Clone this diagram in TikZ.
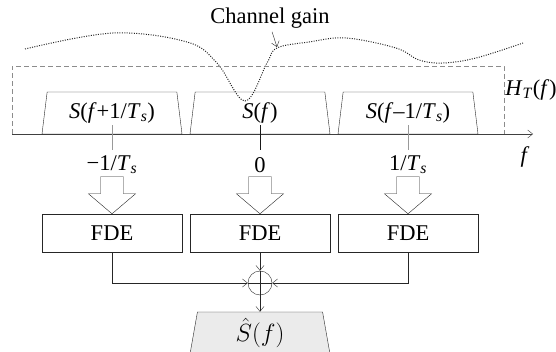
\documentclass[tikz,border=0pt]{standalone}
\usepackage{fontspec}
\setmainfont{Liberation Serif}
\usetikzlibrary{positioning,shapes.geometric,arrows.meta}

\newcommand{\Ts}{\textit{T}\textsubscript{\textit{s}}}
\newcommand{\Sf}[1]{\textit{S}(\textit{f}#1)}

\begin{document}
\begin{tikzpicture}[x=1pt, y=-1pt, font=\fontsize{22.5}{26}\selectfont]
	\tikzset{trapeze/.style={trapezium, trapezium angle=76, trapezium stretches body, draw=black!85, minimum width=140pt, minimum height=42pt, inner sep=0pt},
	boite/.style={draw=black!85, minimum width=140pt, minimum height=38pt, inner sep=0pt},
	fleche/.style={->, >={Straight Barb[length=5pt,width=8pt]}, black!85},
	creuse/.style={draw=black!85, fill=white, line join=miter}};
	\useasboundingbox (0,0) rectangle (556,352);

	% gain du canal
	\node (gain) at (270,18) {Channel gain};
	\draw[black!85, line width=1pt, dash pattern=on 1pt off 1.4pt] plot[smooth, tension=0.6] coordinates {(25,49) (113,33) (187,42) (217,63) (245,101) (267,63) (277,48) (309,42) (346,38) (396,48) (419,60) (443,63) (476,58) (523,43)};
	\coordinate (creux) at (277,47);
	\draw[fleche] ([xshift=2pt]gain.south) -- (creux);

	% filtre et axe
	\draw[black!45, dash pattern=on 5pt off 3pt] (12,134) |- (504,66) -- (504,134);
	\node (ht) at (531,90) {\textit{H}\textsubscript{\textit{T}}(\textit{f})};
	\draw[fleche, black!75] (12,134) -- (533,134);
	\node (f) at (525,157) {\textit{f}};

	\foreach \nom/\x/\sig/\freq/\tick in {g/112/{\Sf{+1/\Ts}}/{−1/\Ts}/black!40, c/260/{\Sf{}}/0/black!90, d/408/{\Sf{–1/\Ts}}/{1/\Ts}/black!40}{
		\node[trapeze] (s-\nom) at (\x,113) {\sig};
		\draw[\tick] ([yshift=9pt]s-\nom.south) -- ++(0,25);
		\node (f-\nom) at (\x,165) {\freq};
		\node[boite] (fde-\nom) at (\x,233) {FDE};
		\draw[creuse] ([xshift=-11.5pt,yshift=37pt]fde-\nom.north) -- ++(23,0) -- ++(0,17) -- ++(12,0) -- (fde-\nom.north) -- ++(-23.5,-20) -- ++(12,0) -- cycle;
	}

	% combinaison
	\node[circle, draw=black!85, minimum size=24pt, inner sep=0pt] (somme) at (260,283) {};
	\draw[black!85] (somme.north) -- (somme.south) (somme.west) -- (somme.east);
	\node[trapeze, fill=black!8, font=\fontsize{27}{30}\selectfont] (sortie) at (260,333) {$\hat{S}(f)$};
	\draw[fleche] (fde-c) -- (somme);
	\draw[fleche] (fde-g) |- (somme);
	\draw[fleche] (fde-d) |- (somme);
	\draw[fleche] (somme) -- (sortie);

\end{tikzpicture}
\end{document}
